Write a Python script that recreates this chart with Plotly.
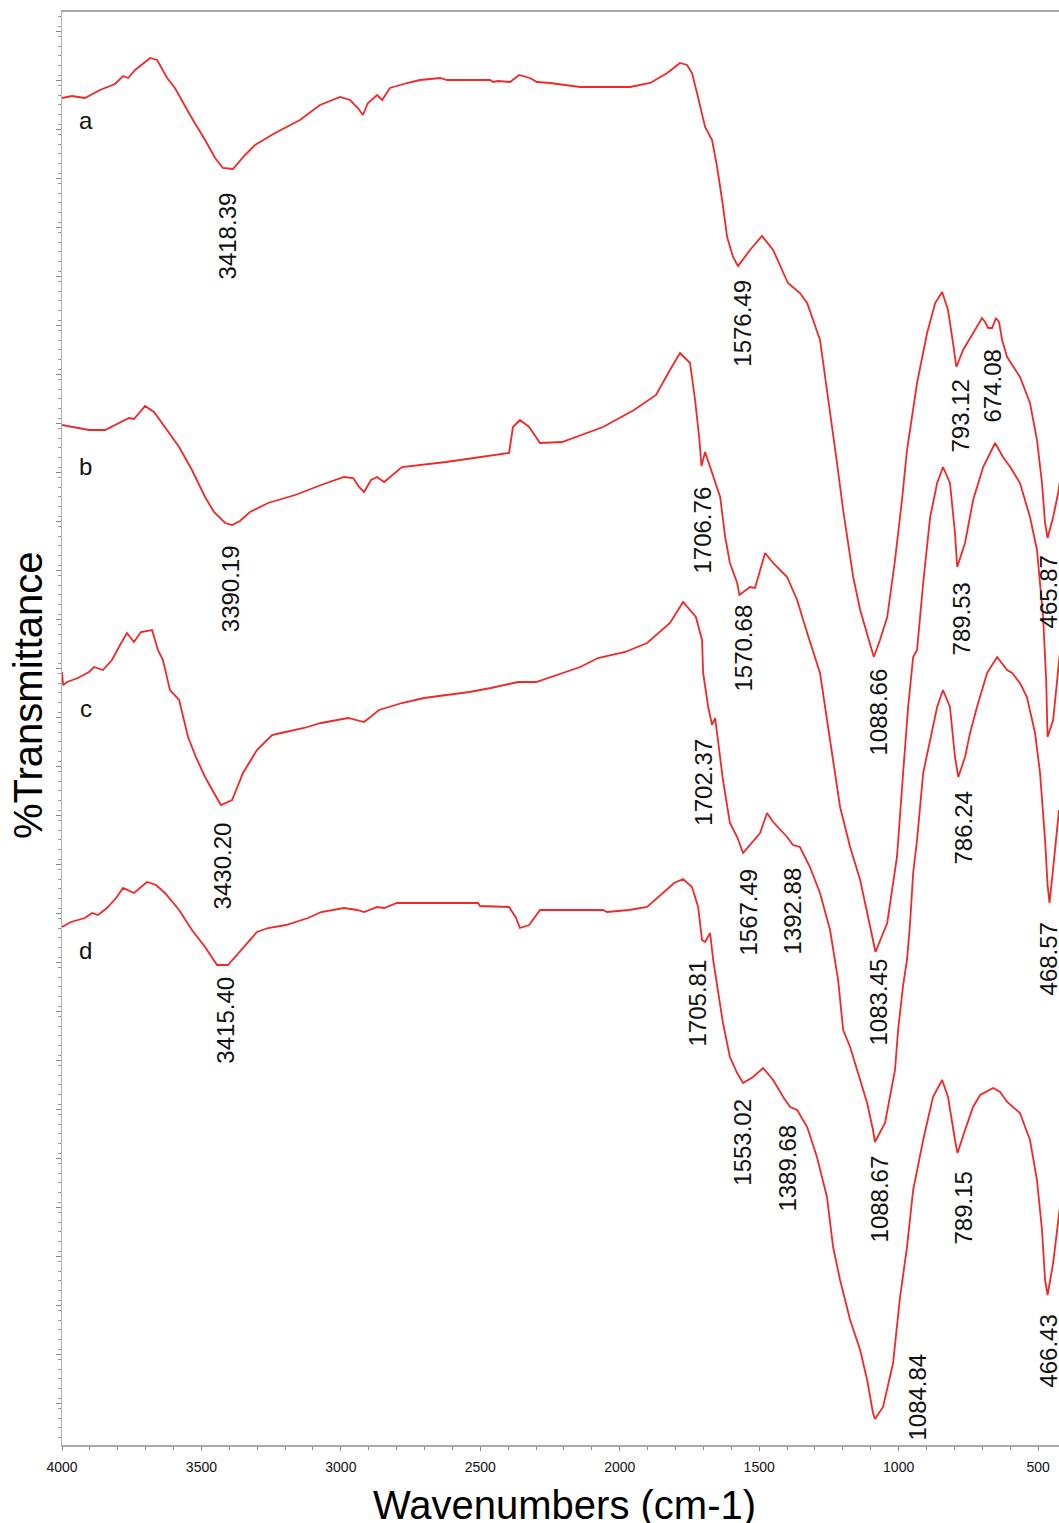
import plotly.graph_objects as go

# (wavenumber cm-1, transmittance in arbitrary stacked units)
spectrum_a = [(4000,1320),(3964,1322),(3918,1320),(3864,1328),(3810,1334),(3781,1342),(3763,1340),(3738,1348),
 (3702,1356),(3684,1360),(3659,1358),(3623,1340),(3595,1330),(3541,1303),(3487,1278),(3451,1260),(3423,1250),
 (3387,1249),(3344,1263),(3308,1273),(3236,1285),(3147,1298),(3075,1313),(3003,1321),(2967,1318),(2939,1310),
 (2921,1303),(2903,1315),(2870,1323),(2852,1318),(2824,1330),(2763,1335),(2716,1338),(2644,1340),(2619,1338),
 (2465,1338),(2454,1336),(2436,1337),(2393,1336),(2361,1343),(2322,1340),(2297,1336),(2250,1335),(2142,1331),
 (1963,1331),(1891,1335),(1830,1345),(1784,1355),(1759,1353),(1741,1345),(1723,1325),(1694,1291),(1669,1278),
 (1651,1251),(1633,1218),(1615,1181),(1594,1161),(1576,1152),(1533,1168),(1490,1182),(1450,1168),(1397,1135),
 (1354,1125),(1328,1115),(1282,1078),(1246,1008),(1221,955),(1199,908),(1163,841),(1138,808),(1102,775),
 (1089,761),(1067,778),(1041,801),(1013,858),(988,918),(970,968),(934,1035),(898,1085),(869,1115),(844,1126),
 (823,1108),(805,1075),(793,1051),(769,1068),(733,1085),(701,1100),(690,1096),(679,1090),(665,1090),(651,1100),
 (640,1096),(629,1078),(611,1061),(593,1053),(565,1041),(529,1015),(504,978),(486,935),(475,895),(466,880),
 (446,901),(428,925),(420,940)]

spectrum_b = [(4000,993),(3903,988),(3846,988),(3760,1000),(3742,999),(3702,1012),(3670,1006),(3623,988),
 (3580,971),(3534,948),(3487,921),(3455,906),(3415,895),(3390,893),(3362,897),(3326,906),(3261,915),(3164,923),
 (3071,933),(2989,941),(2956,940),(2935,931),(2917,926),(2892,938),(2870,941),(2845,936),(2781,951),(2623,956),
 (2397,965),(2383,991),(2358,998),(2325,991),(2286,975),(2207,976),(2060,991),(1949,1008),(1870,1023),
 (1820,1048),(1784,1065),(1748,1055),(1730,1018),(1715,980),(1707,952),(1694,966),(1670,945),(1640,921),
 (1622,881),(1605,855),(1579,835),(1571,823),(1533,831),(1515,830),(1479,865),(1450,855),(1400,841),(1364,818),
 (1328,785),(1282,745),(1246,678),(1210,611),(1174,571),(1138,538),(1102,491),(1083,466),(1041,495),(1006,561),
 (984,645),(966,711),(948,761),(934,768),(912,835),(887,901),(862,935),(841,951),(816,935),(798,885),(790,851),
 (762,875),(733,918),(697,951),(654,975),(626,961),(600,951),(565,935),(529,901),(504,868),(482,801),(471,738),
 (466,681),(446,698),(428,748),(420,770)]

spectrum_c = [(4000,746),(3996,733),(3982,736),(3943,740),(3903,746),(3885,751),(3853,748),(3821,758),(3788,775),
 (3767,785),(3742,776),(3717,786),(3677,788),(3656,768),(3638,758),(3613,728),(3580,718),(3548,681),(3520,661),
 (3487,641),(3455,625),(3430,613),(3390,618),(3351,645),(3301,668),(3247,683),(3215,685),(3132,690),(3071,695),
 (2974,700),(2917,696),(2863,708),(2781,715),(2702,720),(2540,726),(2462,730),(2365,736),(2300,736),(2142,751),
 (2078,760),(1981,766),(1902,775),(1820,795),(1773,816),(1727,801),(1705,778),(1701,745),(1683,711),(1669,693),
 (1658,700),(1648,678),(1630,638),(1605,595),(1579,581),(1558,565),(1526,575),(1497,585),(1472,605),(1450,596),
 (1400,581),(1379,573),(1354,571),(1318,551),(1282,525),(1246,488),(1217,438),(1199,388),(1174,371),(1138,338),
 (1113,315),(1092,288),(1085,276),(1049,295),(1031,321),(1013,348),(1002,388),(984,433),(970,458),(959,495),
 (948,545),(934,578),(912,645),(887,678),(862,711),(841,728),(816,711),(798,661),(786,641),(762,661),(744,685),
 (719,711),(683,745),(647,761),(611,748),(593,745),(565,735),(540,721),(511,685),(493,645),(475,578),(466,533),
 (459,515),(443,558),(425,608)]

spectrum_d = [(4000,491),(3968,496),(3918,500),(3892,505),(3871,503),(3839,510),(3806,520),(3781,530),(3742,525),
 (3717,531),(3695,536),(3663,533),(3631,525),(3580,508),(3534,488),(3487,471),(3444,453),(3405,453),(3358,468),
 (3301,486),(3261,490),(3197,493),(3118,500),(3071,506),(2989,510),(2942,508),(2917,506),(2870,511),(2845,510),
 (2799,515),(2508,515),(2501,512),(2397,511),(2372,500),(2358,490),(2325,493),(2286,508),(2060,508),(2046,506),
 (1967,508),(1902,511),(1852,523),(1805,535),(1773,539),(1741,531),(1719,511),(1705,478),(1694,476),(1676,485),
 (1665,458),(1648,428),(1630,395),(1605,361),(1579,345),(1558,335),(1522,341),(1486,350),(1450,338),(1414,321),
 (1389,311),(1364,308),(1328,291),(1293,261),(1257,221),(1235,171),(1210,138),(1174,98),(1138,68),(1113,38),
 (1092,5),(1085,-1),(1056,11),(1020,55),(995,121),(970,171),(948,228),(912,278),(877,321),(844,338),(823,321),
 (798,278),(789,265),(762,288),(733,311),(708,323),(661,330),(636,326),(611,316),(565,305),(529,278),(504,238),
 (486,188),(475,138),(466,123),(446,155),(428,195),(420,215)]

# peak labels: (text, label wavenumber, label top in transmittance units)
peak_labels = [("3418.39",3405,1228),("3390.19",3395,875),("3430.20",3423,598),("3415.40",3415,443),
 ("1576.49",1561,1140),("1706.76",1705,933),("1570.68",1558,815),("1702.37",1701,681),("1567.49",1540,551),
 ("1392.88",1379,553),("1705.81",1723,460),("1553.02",1561,321),("1389.68",1400,295),("1088.66",1074,751),
 ("1083.45",1074,461),("1088.67",1067,265),("1084.84",934,66),("793.12",780,1040),("674.08",665,1070),
 ("789.53",773,838),("786.24",769,628),("789.15",769,248),("465.87",461,865),("468.57",461,498),
 ("466.43",464,105)]

series_names = ["a", "b", "c", "d"]
series_label_pos = [(3914,1298),(3914,952),(3914,710),(3914,468)]

x_ticks = [4000, 3500, 3000, 2500, 2000, 1500, 1000, 500]

FONT = "Arial, Liberation Sans, sans-serif"
RED = "#f02828"

fig = go.Figure()
for name, spec in zip(series_names, [spectrum_a, spectrum_b, spectrum_c, spectrum_d]):
    xs = [p[0] for p in spec]
    ys = [p[1] for p in spec]
    fig.add_trace(go.Scatter(x=xs, y=ys, mode="lines", name=name,
                             line=dict(color=RED, width=1.8), showlegend=False,
                             hoverinfo="skip"))

annotations = []
for text, x, y in peak_labels:
    annotations.append(dict(x=x, y=y, xref="x", yref="y", text=text, showarrow=False,
                            textangle=-90, xanchor="center", yanchor="top",
                            font=dict(family=FONT, size=24, color="#111")))
for name, (x, y) in zip(series_names, series_label_pos):
    annotations.append(dict(x=x, y=y, xref="x", yref="y", text=name, showarrow=False,
                            xanchor="center", yanchor="middle",
                            font=dict(family=FONT, size=24, color="#111")))

annotations.append(dict(x=0.5045, y=-0.042, xref="paper", yref="paper",
                        text="Wavenumbers (cm-1)", showarrow=False,
                        xanchor="center", yanchor="middle",
                        font=dict(family=FONT, size=40, color="#000")))
annotations.append(dict(x=0, y=0.5234, xref="paper", yref="paper",
                        text="%Transmittance", showarrow=False, textangle=-90,
                        xanchor="center", yanchor="middle", xshift=-34,
                        font=dict(family=FONT, size=40, color="#000")))

fig.update_layout(
    width=1059, height=1523,
    margin=dict(l=62, r=0, t=12, b=78),
    paper_bgcolor="white", plot_bgcolor="white",
    annotations=annotations,
    xaxis=dict(range=[4000, 425], tickvals=x_ticks, ticktext=[str(v) for v in x_ticks],
               showline=True, linecolor="#a8a8a8", linewidth=2, mirror=True,
               ticks="outside", ticklen=4, tickcolor="#888", tickwidth=1,
               minor=dict(dtick=100, ticks="outside", ticklen=3, tickcolor="#888"),
               showgrid=False, zeroline=False,
               tickfont=dict(family=FONT, size=14, color="#111"),
               ticklabelstandoff=4),
    yaxis=dict(range=[-27, 1406], showticklabels=False,
               showline=True, linecolor="#b4b4b4", linewidth=1,
               ticks="outside", ticklen=5, tickcolor="#888", tick0=15, dtick=49,
               minor=dict(dtick=9.8, ticks="outside", ticklen=3, tickcolor="#999"),
               showgrid=False, zeroline=False),
)

fig.write_html("out.html", config={"displayModeBar": False},
               post_script="document.body.style.margin='0';document.body.style.overflow='hidden';")
